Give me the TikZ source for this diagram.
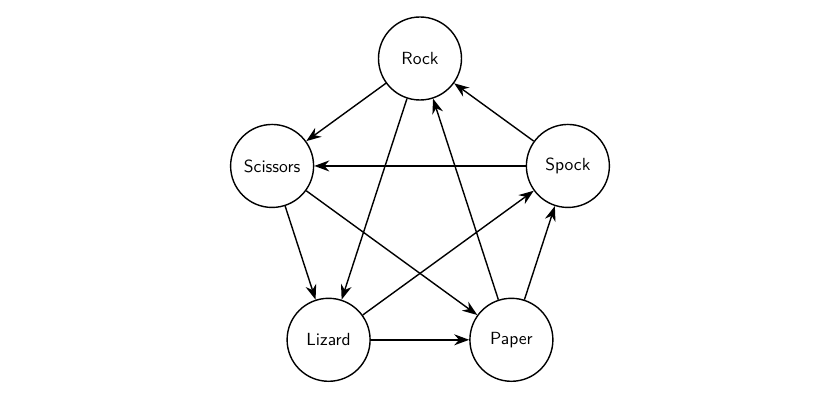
\documentclass[tikz,border=0pt]{standalone}
\usepackage{tikz}
\usetikzlibrary{arrows.meta}

\tikzset{
    player/.style={circle, draw, thick, minimum size=1.66cm, inner sep=0pt, font=\sffamily},
    beats/.style={-{Stealth[length=3mm, width=2.2mm]}, thick}
}

\begin{document}
\begin{tikzpicture}
    % Canvas
    \useasboundingbox (-8.4,-3.72) rectangle (8.4,4.28);

    % The five hands on a pentagon
    \node[player] (rock)     at (90:3.11)  {Rock};
    \node[player] (scissors) at (162:3.11) {Scissors};
    \node[player] (lizard)   at (234:3.11) {Lizard};
    \node[player] (paper)    at (306:3.11) {Paper};
    \node[player] (spock)    at (18:3.11)  {Spock};

    % Who beats whom
    \draw[beats] (rock) -- (scissors);
    \draw[beats] (rock) -- (lizard);
    \draw[beats] (scissors) -- (lizard);
    \draw[beats] (scissors) -- (paper);
    \draw[beats] (lizard) -- (paper);
    \draw[beats] (lizard) -- (spock);
    \draw[beats] (paper) -- (rock);
    \draw[beats] (paper) -- (spock);
    \draw[beats] (spock) -- (rock);
    \draw[beats] (spock) -- (scissors);

\end{tikzpicture}
\end{document}
